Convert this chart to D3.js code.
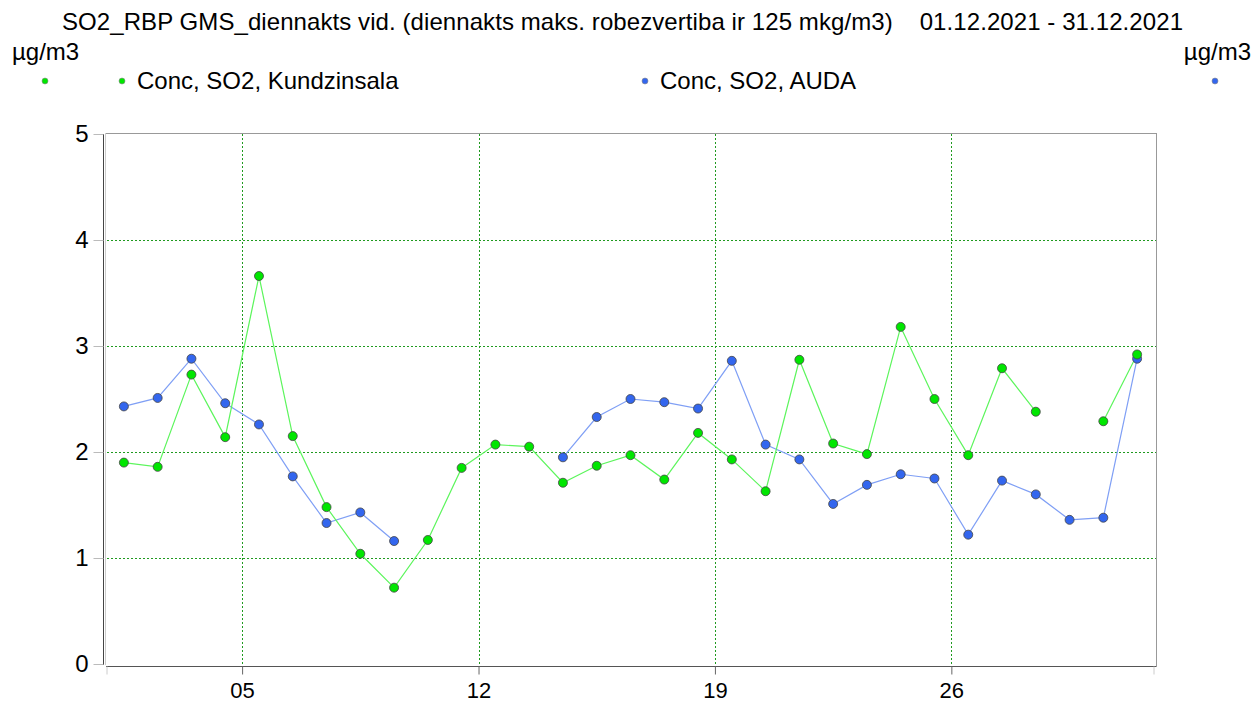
<!DOCTYPE html>
<html>
<head>
<meta charset="utf-8">
<script src="https://cdn.jsdelivr.net/npm/d3@7"></script>
<style>
  body { margin: 0; background: #fff; }
  text { font-family: "Liberation Sans", Arial, sans-serif; }
</style>
</head>
<body>
<script>
// chart size
const width = 1252,
  height = 704;

// plot area (Dec 1 00:00 -> Jan 1 00:00)
const plotLeft = 107, plotRight = 1154, plotTop = 134, plotBottom = 664;

// data: daily values, one per day of December 2021 (null = no data)
const days = d3.range(1, 32);
const kundzinsala = [1.90, 1.86, 2.73, 2.14, 3.66, 2.15, 1.48, 1.04, 0.72, 1.17,
  1.85, 2.07, 2.05, 1.71, 1.87, 1.97, 1.74, 2.18, 1.93, 1.63,
  2.87, 2.08, 1.98, 3.18, 2.50, 1.97, 2.79, 2.38, null, 2.29, 2.92];
const auda = [2.43, 2.51, 2.88, 2.46, 2.26, 1.77, 1.33, 1.43, 1.16, null,
  null, null, null, 1.95, 2.33, 2.50, 2.47, 2.41, 2.86, 2.07,
  1.93, 1.51, 1.69, 1.79, 1.75, 1.22, 1.73, 1.60, 1.36, 1.38, 2.88];
const xTickDays = [5, 12, 19, 26];
const yTicks = [0, 1, 2, 3, 4, 5];
const seriesNames = ["Conc, SO2, Kundzinsala", "Conc, SO2, AUDA"];
const title = "SO2_RBP GMS_diennakts vid. (diennakts maks. robezvertiba ir 125 mkg/m3)    01.12.2021 - 31.12.2021";
const unit = "\u00b5g/m3";

const greenFill = "#00e600", greenLine = "#5cf55c";
const blueFill = "#3366ee", blueLine = "#7f9ff5";

const xScale = d3.scaleUtc()
  .domain([new Date(Date.UTC(2021, 11, 1)), new Date(Date.UTC(2022, 0, 1))])
  .range([plotLeft, plotRight]);

const yScale = d3.scaleLinear()
  .domain([0, 5])
  .range([plotBottom, plotTop]);

// points sit at midday of each day
const dayX = d => xScale(new Date(Date.UTC(2021, 11, d, 12)));

const svg = d3.select("body")
  .append("svg")
  .attr("width", width)
  .attr("height", height);

// title and units
svg.append("text")
  .attr("x", 62).attr("y", 30)
  .attr("font-size", 24)
  .attr("textLength", 1121)
  .style("white-space", "pre")
  .text(title);

svg.append("text").attr("x", 12).attr("y", 60).attr("font-size", 24).text(unit);
svg.append("text").attr("x", 1251).attr("y", 60).attr("font-size", 24)
  .attr("text-anchor", "end").text(unit);

// legend
const legend = [
  {name: seriesNames[0], fill: greenFill, dots: [45, 122], tx: 137},
  {name: seriesNames[1], fill: blueFill, dots: [645, 1215], tx: 660}
];
legend.forEach(l => {
  l.dots.forEach(x => {
    svg.append("circle").attr("cx", x).attr("cy", 81).attr("r", 3)
      .attr("fill", l.fill).attr("stroke", "#888").attr("stroke-width", 0.6);
  });
  svg.append("text").attr("x", l.tx).attr("y", 89).attr("font-size", 24).text(l.name);
});

// grid lines
const grid = svg.append("g");
grid.selectAll(".hg")
  .data(yTicks.filter(d => d > 0 && d < 5))
  .enter().append("line")
  .attr("x1", plotLeft).attr("x2", 1156)
  .attr("y1", d => Math.round(yScale(d)) + 0.5)
  .attr("y2", d => Math.round(yScale(d)) + 0.5)
  .attr("stroke", "#1f9a1f").attr("stroke-dasharray", "2,2");
grid.selectAll(".vg")
  .data(xTickDays)
  .enter().append("line")
  .attr("x1", d => Math.round(xScale(new Date(Date.UTC(2021, 11, d)))) + 0.5)
  .attr("x2", d => Math.round(xScale(new Date(Date.UTC(2021, 11, d)))) + 0.5)
  .attr("y1", plotTop).attr("y2", plotBottom)
  .attr("stroke", "#1f9a1f").attr("stroke-dasharray", "2,2");

// frame
svg.append("line").attr("x1", 106).attr("x2", 1156).attr("y1", 133.5).attr("y2", 133.5)
  .attr("stroke", "#999");
svg.append("line").attr("x1", 1156.5).attr("x2", 1156.5).attr("y1", 133).attr("y2", 667)
  .attr("stroke", "#999");
svg.append("line").attr("x1", 105.5).attr("x2", 105.5).attr("y1", 133).attr("y2", 665)
  .attr("stroke", "#ccc");

// y axis
const yAxis = svg.append("g")
  .attr("transform", "translate(103.5,0)")
  .call(d3.axisLeft(yScale).tickValues(yTicks).tickSize(10).tickPadding(5).tickFormat(d3.format("d")));
yAxis.select(".domain").attr("stroke", "#444").attr("d", `M0,${plotTop}V${plotBottom + 1}`);
yAxis.selectAll(".tick line").attr("stroke", "#bbb");
yAxis.selectAll(".tick text").attr("font-size", 24).attr("fill", "#000")
  .attr("font-family", "Liberation Sans, Arial, sans-serif");

// x axis
const xAxis = svg.append("g")
  .attr("transform", "translate(0,666.5)")
  .call(d3.axisBottom(xScale)
    .tickValues(xTickDays.map(d => new Date(Date.UTC(2021, 11, d))))
    .tickSize(8).tickPadding(8)
    .tickFormat(d3.utcFormat("%d")));
xAxis.select(".domain").attr("stroke", "#555").attr("d", "M106,0H1156");
xAxis.selectAll(".tick line").attr("stroke", "#666");
xAxis.selectAll(".tick text").attr("font-size", 22).attr("fill", "#000")
  .attr("font-family", "Liberation Sans, Arial, sans-serif");
// end ticks
xAxis.selectAll(".endtick")
  .data(xScale.domain())
  .enter().append("line")
  .attr("x1", d => xScale(d)).attr("x2", d => xScale(d))
  .attr("y1", 0).attr("y2", 8).attr("stroke", "#ccc");

// series
const series = [
  {values: auda, line: blueLine, fill: blueFill},
  {values: kundzinsala, line: greenLine, fill: greenFill}
];
const lineGen = d3.line()
  .defined(d => d.v !== null)
  .x(d => dayX(d.day))
  .y(d => yScale(d.v));

series.forEach(s => {
  const pts = days.map((day, i) => ({day: day, v: s.values[i]}));
  svg.append("path")
    .datum(pts)
    .attr("fill", "none")
    .attr("stroke", s.line)
    .attr("stroke-width", 1.2)
    .attr("d", lineGen);
});
series.forEach(s => {
  const pts = days.map((day, i) => ({day: day, v: s.values[i]})).filter(d => d.v !== null);
  svg.append("g").selectAll("circle")
    .data(pts)
    .enter().append("circle")
    .attr("cx", d => dayX(d.day))
    .attr("cy", d => yScale(d.v))
    .attr("r", 4.5)
    .attr("fill", s.fill)
    .attr("stroke", "#444")
    .attr("stroke-width", 0.8);
});
</script>
</body>
</html>
